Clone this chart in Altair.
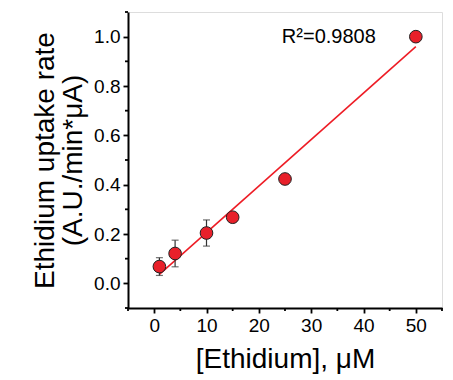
import altair as alt
import pandas as pd

conc = [1, 4, 10, 15, 25, 50]
rate = [0.068, 0.121, 0.204, 0.268, 0.423, 1.0]
err = [0.036, 0.054, 0.053, 0.008, 0.02, 0.0]

x_major = [0, 10, 20, 30, 40, 50]
x_minor = [-5, 5, 15, 25, 35, 45, 55]
y_major = [0.0, 0.2, 0.4, 0.6, 0.8, 1.0]
y_minor = [-0.1, 0.1, 0.3, 0.5, 0.7, 0.9, 1.1]
r2_text = "R\u00b2=0.9808"

W, H = 314, 296

df = pd.DataFrame({"x": conc, "y": rate, "e": err})
df["lo"] = df["y"] - df["e"]
df["hi"] = df["y"] + df["e"]

FONT = "Liberation Sans"

xscale = alt.Scale(domain=[-5, 55], nice=False, zero=False)
yscale = alt.Scale(domain=[-0.1, 1.1], nice=False, zero=False)

xaxis = alt.Axis(
    values=x_major,
    tickSize=5,
    grid=False, domainColor="black", domainWidth=2, tickColor="black", tickWidth=1.8,
    labelFont=FONT, labelFontSize=19, labelColor="black", labelPadding=3,
    title="[Ethidium], \u03bcM", titleFont=FONT, titleFontSize=28, titleFontWeight="normal",
    titleColor="black", titlePadding=10,
)
yaxis = alt.Axis(
    values=y_major, format=".1f",
    tickSize=5,
    grid=False, domainColor="black", domainWidth=2, tickColor="black", tickWidth=1.8,
    labelFont=FONT, labelFontSize=19, labelColor="black", labelPadding=3,
    title=["Ethidium uptake rate", "(A.U./min*\u03bcA)"], titleFont=FONT, titleFontSize=28,
    titleFontWeight="normal", titleColor="black", titlePadding=6, titleLineHeight=28,
)

base = alt.Chart(df)

fit = base.transform_regression("x", "y").mark_line(color="#ee1c25", strokeWidth=1.6).encode(
    x=alt.X("x:Q", scale=xscale, axis=xaxis),
    y=alt.Y("y:Q", scale=yscale, axis=yaxis),
)

xminor = alt.Chart(pd.DataFrame({"x": x_minor})).mark_rule(
    color="black", strokeWidth=1.8
).encode(x="x:Q", y=alt.value(H), y2=alt.value(H + 3))

yminor = alt.Chart(pd.DataFrame({"y": y_minor})).mark_rule(
    color="black", strokeWidth=1.8
).encode(y="y:Q", x=alt.value(0), x2=alt.value(-3))

bars = base.mark_rule(color="#333333", strokeWidth=1.2).encode(
    x="x:Q", y="lo:Q", y2="hi:Q"
)
cap_lo = base.mark_tick(color="#333333", orient="horizontal", size=7, thickness=1.2).encode(
    x="x:Q", y="lo:Q"
)
cap_hi = base.mark_tick(color="#333333", orient="horizontal", size=7, thickness=1.2).encode(
    x="x:Q", y="hi:Q"
)

pts = base.mark_point(filled=True, fill="#e8202a", stroke="#222222", strokeWidth=1,
                      opacity=1, fillOpacity=1, size=160, shape="circle").encode(
    x="x:Q", y="y:Q"
)

label = alt.Chart(pd.DataFrame({"t": [r2_text]})).mark_text(
    font=FONT, fontSize=20, color="black", align="left", baseline="middle"
).encode(x=alt.datum(24.4), y=alt.datum(1.0), text="t:N")

chart = alt.layer(fit, xminor, yminor, bars, cap_lo, cap_hi, pts, label).properties(
    width=W, height=H,
    padding={"left": 23, "top": 3, "right": 0, "bottom": 5},
).configure_view(stroke=None).configure(background="white")

chart.save("out.html", embed_options={"renderer": "svg", "actions": False})
